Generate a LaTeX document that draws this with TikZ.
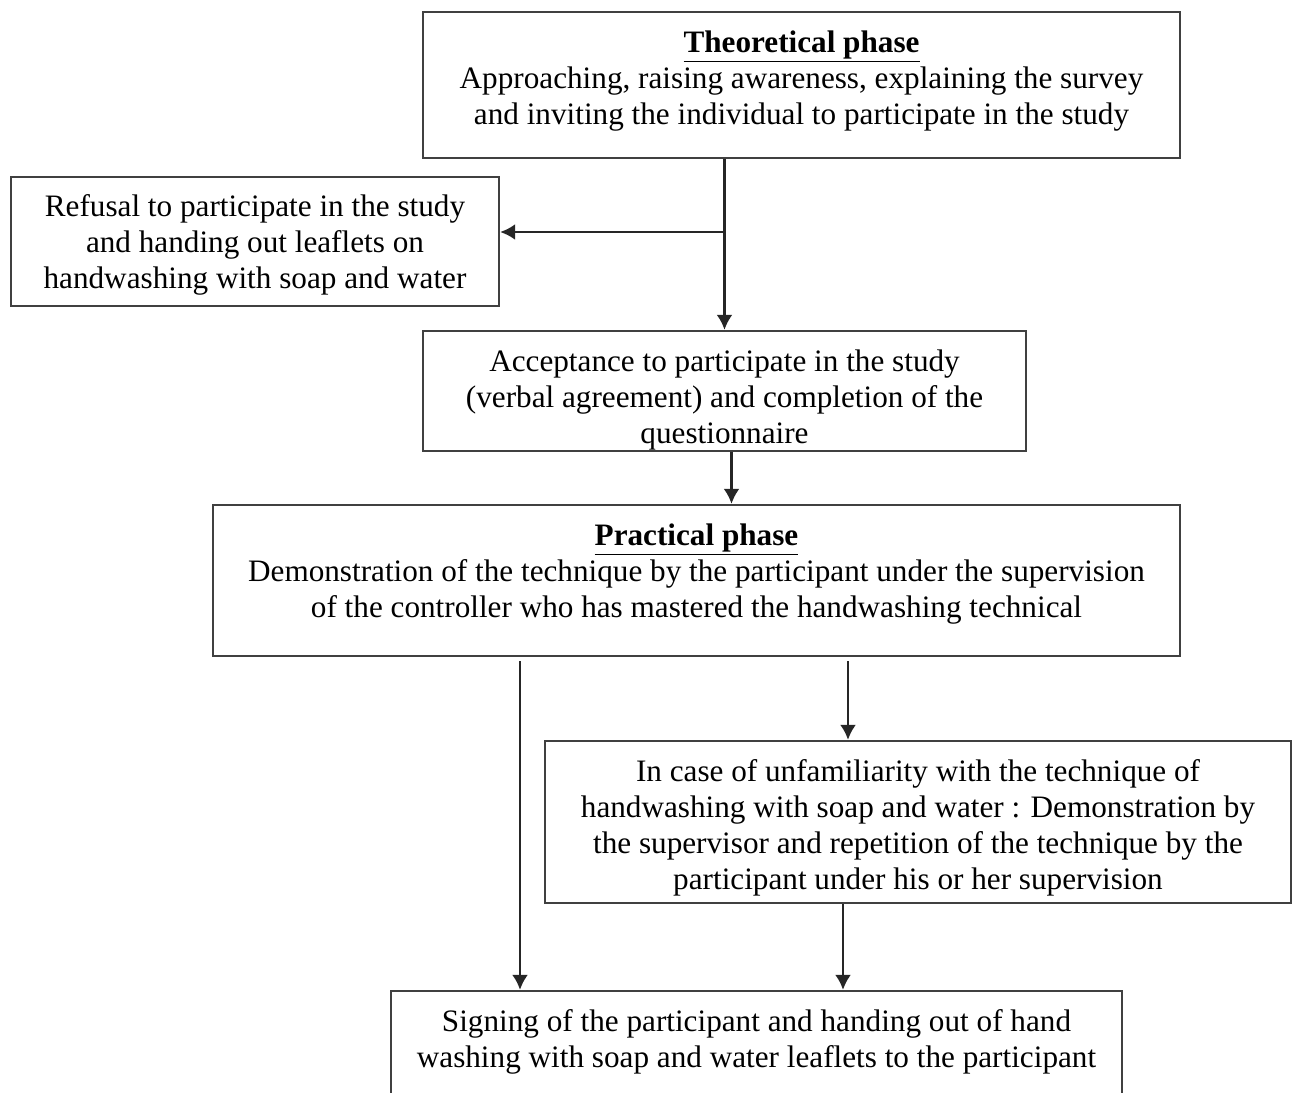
\documentclass[tikz,border=0pt]{standalone}
\usepackage{fontspec}
\setmainfont{Liberation Serif}
\usetikzlibrary{positioning, calc, arrows.meta}

\begin{document}
\begin{tikzpicture}[x=0.5pt, y=-0.5pt, >={Latex[length=7.5pt,width=8pt]},
    box/.style={rectangle, draw=black!75, line width=1.2pt, align=center,
    font=\fontsize{15.6}{18}\selectfont, inner sep=0pt, text depth=0pt},
    link/.style={->, line width=1.2pt, draw=black!85}]

  \clip (0,0) rectangle (1293,1092);

  \node[box, minimum width=378.5pt, minimum height=73pt, text height=39pt] (theo) at (801.5,85)
    {\underline{\textbf{Theoretical phase}}\\
     Approaching, raising awareness, explaining the survey\\
     and inviting the individual to participate in the study};
  \node[box, minimum width=244pt, minimum height=64.5pt, text height=46.5pt] (refuse) at (255,241.5)
    {Refusal to participate in the study\\
     and handing out leaflets on\\
     handwashing with soap and water};
  \node[box, minimum width=301.5pt, minimum height=60pt, text height=52pt] (accept) at (724.5,391)
    {Acceptance to participate in the study\\
     (verbal agreement) and completion of the\\
     questionnaire};
  \node[box, minimum width=483.5pt, minimum height=75.5pt, text height=36.5pt] (practical) at (696.5,580.5)
    {\underline{\textbf{Practical phase}}\\
     Demonstration of the technique by the participant under the supervision\\
     of the controller who has mastered the handwashing technical};
  \node[box, minimum width=373pt, minimum height=81pt, text height=67pt] (unfam) at (918,822)
    {In case of unfamiliarity with the technique of\\
     handwashing with soap and water : Demonstration by\\
     the supervisor and repetition of the technique by the\\
     participant under his or her supervision};
  \node[box, minimum width=365.5pt, minimum height=55pt, text height=21pt] (sign) at (756.5,1046)
    {Signing of the participant and handing out of hand\\
     washing with soap and water leaflets to the participant};

  \coordinate (fork) at ([yshift=4.75pt]refuse.east);
  \coordinate (lcol) at (520,0);
  \coordinate (rcol) at (848,0);
  \coordinate (rcolb) at (843,0);

  \draw[link] (theo.south -| accept.north) -- (accept.north);
  \draw[link] (accept.north |- fork) -- (fork);
  \draw[link] ([xshift=3.5pt]accept.south) -- ([xshift=3.5pt]accept.south |- practical.north);
  \draw[link] ([yshift=-2pt]practical.south -| lcol) -- (sign.north -| lcol);
  \draw[link] ([yshift=-2pt]practical.south -| rcol) -- (unfam.north -| rcol);
  \draw[link] (unfam.south -| rcolb) -- (sign.north -| rcolb);
\end{tikzpicture}
\end{document}
